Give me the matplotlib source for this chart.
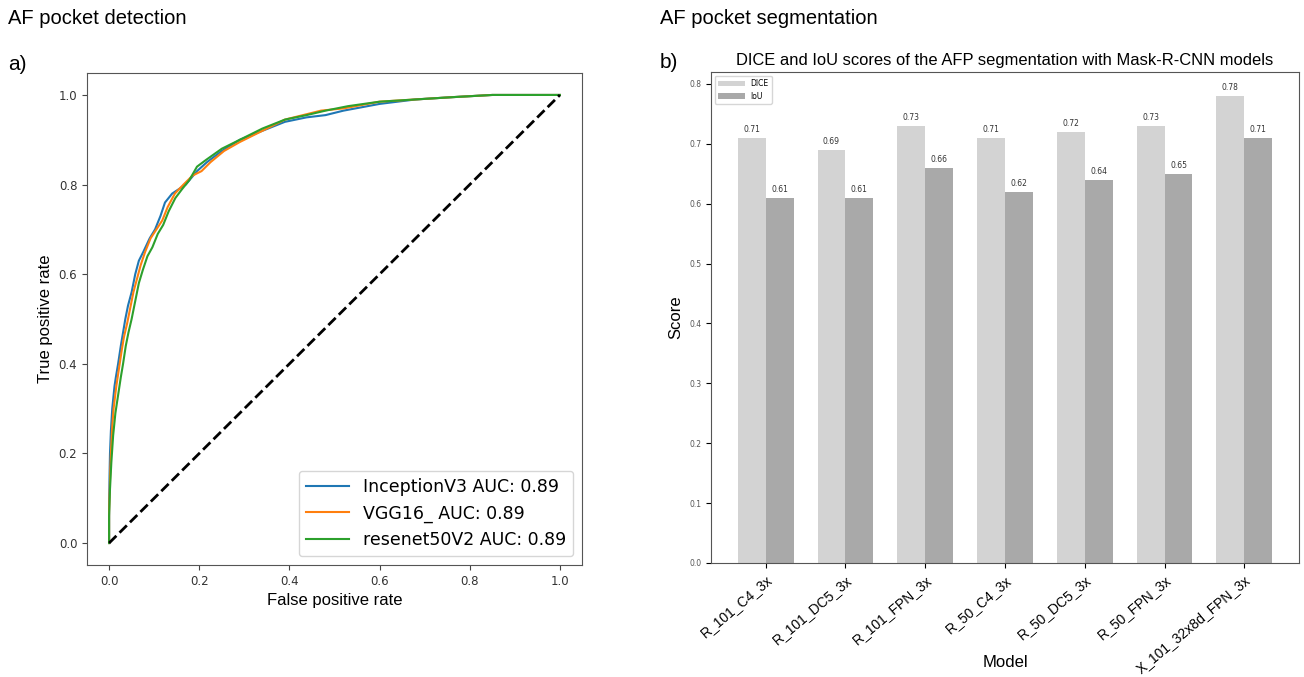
import matplotlib
matplotlib.use("Agg")
import matplotlib.pyplot as plt
import numpy as np

# ROC curves
fpr_inception = [0.0, 0.0, 0.001, 0.002, 0.004, 0.007, 0.012, 0.015, 0.020, 0.026, 0.031, 0.036, 0.042,
                 0.050, 0.058, 0.066, 0.076, 0.090, 0.102, 0.114, 0.124, 0.140, 0.155, 0.170, 0.195,
                 0.217, 0.250, 0.290, 0.340, 0.390, 0.438, 0.480, 0.520, 0.600, 0.680, 0.760, 0.850, 1.0]
tpr_inception = [0.0, 0.08, 0.15, 0.20, 0.25, 0.30, 0.35, 0.37, 0.40, 0.44, 0.47, 0.50, 0.53,
                 0.56, 0.60, 0.63, 0.65, 0.68, 0.70, 0.73, 0.76, 0.78, 0.79, 0.80, 0.83,
                 0.85, 0.875, 0.90, 0.92, 0.94, 0.95, 0.955, 0.965, 0.98, 0.99, 0.995, 1.0, 1.0]

fpr_vgg = [0.0, 0.0, 0.002, 0.004, 0.007, 0.010, 0.016, 0.022, 0.028, 0.033, 0.040, 0.046,
           0.054, 0.062, 0.070, 0.080, 0.092, 0.105, 0.118, 0.130, 0.146, 0.165, 0.185, 0.205,
           0.225, 0.255, 0.290, 0.340, 0.390, 0.430, 0.470, 0.520, 0.600, 0.680, 0.760, 0.850, 1.0]
tpr_vgg = [0.0, 0.07, 0.14, 0.20, 0.26, 0.30, 0.35, 0.39, 0.43, 0.46, 0.49, 0.52,
           0.56, 0.59, 0.62, 0.65, 0.68, 0.70, 0.72, 0.75, 0.78, 0.80, 0.82, 0.83,
           0.85, 0.875, 0.895, 0.92, 0.945, 0.955, 0.965, 0.97, 0.985, 0.99, 0.995, 1.0, 1.0]

fpr_resnet = [0.0, 0.0, 0.002, 0.005, 0.009, 0.014, 0.020, 0.026, 0.031, 0.037, 0.043, 0.050,
              0.058, 0.066, 0.075, 0.085, 0.096, 0.108, 0.120, 0.132, 0.147, 0.162, 0.178, 0.195,
              0.215, 0.250, 0.290, 0.340, 0.390, 0.438, 0.480, 0.530, 0.600, 0.680, 0.760, 0.850, 1.0]
tpr_resnet = [0.0, 0.06, 0.12, 0.18, 0.24, 0.29, 0.33, 0.37, 0.40, 0.44, 0.47, 0.50,
              0.54, 0.58, 0.61, 0.64, 0.66, 0.69, 0.71, 0.74, 0.77, 0.79, 0.81, 0.84,
              0.855, 0.88, 0.90, 0.925, 0.945, 0.955, 0.965, 0.975, 0.985, 0.99, 0.995, 1.0, 1.0]

roc_labels = ["InceptionV3 AUC: 0.89", "VGG16_ AUC: 0.89", "resenet50V2 AUC: 0.89"]
roc_colors = ["#1f77b4", "#ff7f0e", "#2ca02c"]

# segmentation scores
models = ["R_101_C4_3x", "R_101_DC5_3x", "R_101_FPN_3x", "R_50_C4_3x",
          "R_50_DC5_3x", "R_50_FPN_3x", "X_101_32x8d_FPN_3x"]
dice = [0.71, 0.69, 0.73, 0.71, 0.72, 0.73, 0.78]
iou = [0.61, 0.61, 0.66, 0.62, 0.64, 0.65, 0.71]

fig = plt.figure(figsize=(13.04, 6.77), dpi=100)
W, H = 1304, 677

def box(l, t, r, b):
    return [l / W, 1 - b / H, (r - l) / W, (b - t) / H]

sans = "Liberation Sans"

fig.text(8 / W, 1 - 18 / H, "AF pocket detection", fontsize=14.5, family=sans, va="center")
fig.text(660 / W, 1 - 18 / H, "AF pocket segmentation", fontsize=14.5, family=sans, va="center")
fig.text(8 / W, 1 - 64 / H, "a)", fontsize=15, family=sans, va="center")
fig.text(660 / W, 1 - 62 / H, "b)", fontsize=15, family=sans, va="center")

# ---- a) ROC
ax1 = fig.add_axes(box(87, 73, 582, 565))
curves = [(fpr_inception, tpr_inception), (fpr_vgg, tpr_vgg), (fpr_resnet, tpr_resnet)]
for (fx, ty), lab, c in zip(curves, roc_labels, roc_colors):
    ax1.plot(fx, ty, color=c, lw=1.5, label=lab)
ax1.plot([0, 1], [0, 1], "k--", lw=2)
ax1.set_xlim(-0.049, 1.049)
ax1.set_ylim(-0.049, 1.049)
ax1.set_xticks([0, 0.2, 0.4, 0.6, 0.8, 1.0])
ax1.set_yticks([0, 0.2, 0.4, 0.6, 0.8, 1.0])
ax1.tick_params(labelsize=8.5, colors="#444444", labelcolor="#333333")
ax1.set_xlabel("False positive rate", fontsize=12, family=sans)
ax1.set_ylabel("True positive rate", fontsize=12, family=sans)
for s in ax1.spines.values():
    s.set_color("#555555")
ax1.legend(loc="lower right", fontsize=12.5, handlelength=2.5)

# ---- b) bars
ax2 = fig.add_axes(box(711, 72, 1299, 563))
x = np.arange(len(models))
w = 0.35
b1 = ax2.bar(x - w / 2, dice, w, color="#d3d3d3", label="DICE")
b2 = ax2.bar(x + w / 2, iou, w, color="#a9a9a9", label="IoU")
for bars in (b1, b2):
    for r in bars:
        ax2.annotate(f"{r.get_height():.2f}", (r.get_x() + r.get_width() / 2, r.get_height()),
                     xytext=(0, 3), textcoords="offset points", ha="center", va="bottom",
                     fontsize=5.5, color="#333333")
ax2.set_xticks(x)
ax2.set_xticklabels(models, rotation=40, ha="right", rotation_mode="anchor",
                    fontsize=10, family=sans)
ax2.set_yticks(np.arange(0, 0.81, 0.1))
ax2.set_yticklabels([f"{v:.1f}" for v in np.arange(0, 0.81, 0.1)], fontsize=5.5, color="#555555")
ax2.set_ylim(0, 0.82)
ax2.set_xlim(-0.685, 6.685)
ax2.set_title("DICE and IoU scores of the AFP segmentation with Mask-R-CNN models",
              fontsize=11.9, family=sans, pad=5)
ax2.set_ylabel("Score", fontsize=12, family=sans)
ax2.set_xlabel("Model", fontsize=12, family=sans)
ax2.xaxis.set_label_coords(0.5, -0.187)
for s in ax2.spines.values():
    s.set_color("#555555")
ax2.legend(loc="upper left", fontsize=5.5, handlelength=3.5)

fig.savefig("out.png", dpi=100)
